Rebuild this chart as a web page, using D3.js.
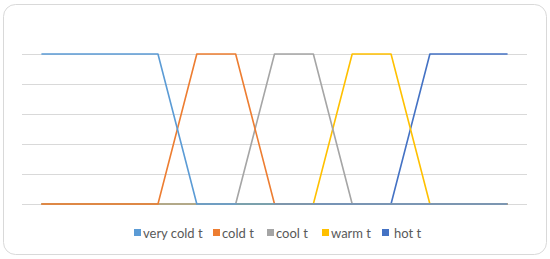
<!DOCTYPE html>
<html>
<head>
<meta charset="utf-8">
<script src="https://cdn.jsdelivr.net/npm/d3@7"></script>
<style>
  body { margin: 0; background: #fff; }
  svg { display: block; }
</style>
</head>
<body>
<div id="chart"></div>
<script>
var categories = [1, 2, 3, 4, 5, 6, 7, 8, 9, 10, 11, 12, 13];
var seriesNames = ["very cold t", "cold t", "cool t", "warm t", "hot t"];
var veryCold = [1, 1, 1, 1, 0, 0, 0, 0, 0, 0, 0, 0, 0];
var cold     = [0, 0, 0, 0, 1, 1, 0, 0, 0, 0, 0, 0, 0];
var cool     = [0, 0, 0, 0, 0, 0, 1, 1, 0, 0, 0, 0, 0];
var warm     = [0, 0, 0, 0, 0, 0, 0, 0, 1, 1, 0, 0, 0];
var hot      = [0, 0, 0, 0, 0, 0, 0, 0, 0, 0, 1, 1, 1];
var yTicks = [0, 0.2, 0.4, 0.6, 0.8, 1];

var colors = ["#5B9BD5", "#ED7D31", "#A5A5A5", "#FFC000", "#4472C4"];
var seriesData = [veryCold, cold, cool, warm, hot];

var svgWidth = 550;
var svgHeight = 259;

var svg = d3.select("#chart")
    .append("svg")
    .attr("width", svgWidth)
    .attr("height", svgHeight);

// chart border
svg.append("rect")
    .attr("x", 3.5)
    .attr("y", 4.5)
    .attr("width", 543)
    .attr("height", 250)
    .attr("rx", 12)
    .attr("fill", "#fff")
    .attr("stroke", "#d9d9d9");

var plotLeft = 22, plotRight = 527;

var x = d3.scaleBand()
    .domain(categories)
    .range([plotLeft, plotRight]);

var y = d3.scaleLinear()
    .domain([0, 1])
    .range([204, 54]);

// gridlines
svg.append("g")
    .selectAll("line")
    .data(yTicks)
    .enter()
    .append("line")
    .attr("x1", plotLeft)
    .attr("x2", plotRight)
    .attr("y1", d => Math.round(y(d)) + 0.5)
    .attr("y2", d => Math.round(y(d)) + 0.5)
    .attr("stroke", "#d9d9d9")
    .attr("stroke-width", 1);

var line = d3.line()
    .x((d, i) => x(categories[i]) + x.bandwidth() / 2)
    .y(d => y(d));

// draw last series first so earlier ones sit on top
var order = d3.range(seriesData.length).reverse();
svg.append("g")
    .selectAll("path")
    .data(order)
    .enter()
    .append("path")
    .attr("d", i => line(seriesData[i]))
    .attr("fill", "none")
    .attr("stroke", i => colors[i])
    .attr("stroke-width", 1.6)
    .attr("stroke-linejoin", "round");

// legend
var legendX = [134, 213, 267, 322, 382];
var legendY = 233;
var legend = svg.append("g")
    .selectAll("g")
    .data(seriesNames)
    .enter()
    .append("g")
    .attr("transform", (d, i) => `translate(${legendX[i]}, ${legendY})`);

legend.append("rect")
    .attr("x", 0)
    .attr("y", -4)
    .attr("width", 7)
    .attr("height", 7)
    .attr("fill", (d, i) => colors[i]);

legend.append("text")
    .attr("x", (d, i) => i == 4 ? 12 : 9)
    .attr("y", 0)
    .attr("dy", "0.35em")
    .attr("font-family", "Lato, 'Open Sans', sans-serif")
    .attr("font-size", "13px")
    .attr("fill", "#595959")
    .text(d => d);
</script>
</body>
</html>
